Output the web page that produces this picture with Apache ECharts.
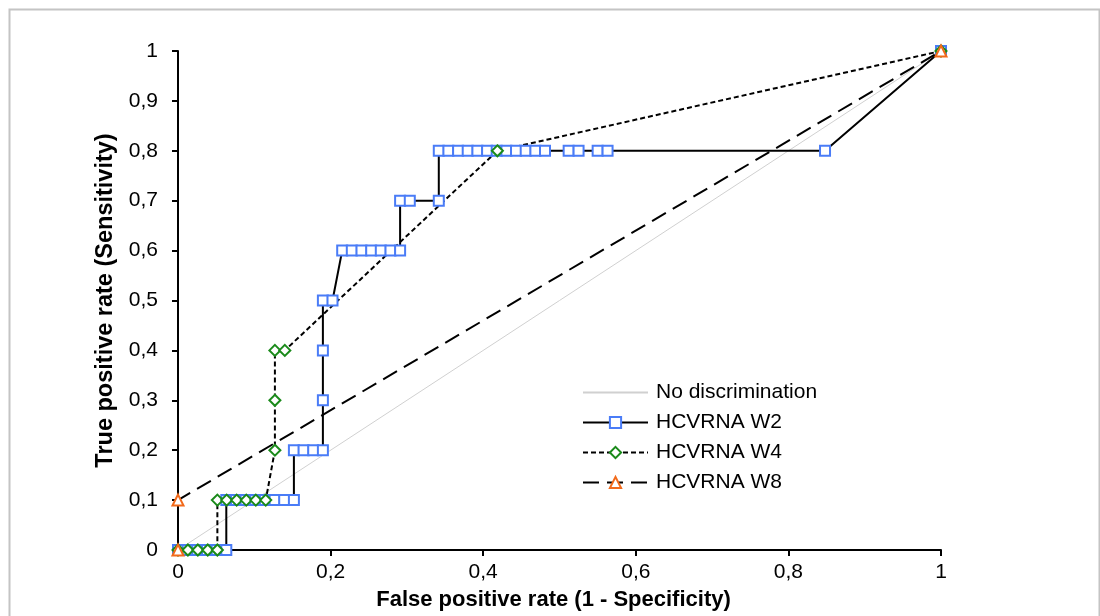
<!DOCTYPE html>
<html>
<head>
<meta charset="utf-8">
<script src="https://cdn.jsdelivr.net/npm/echarts@6/dist/echarts.min.js"></script>
<style>
html,body{margin:0;padding:0;background:#fff;}
#chart{width:1100px;height:616px;}
</style>
</head>
<body>
<div id="chart"></div>
<script>
// ---- data ----
const xTicks = [0, 0.2, 0.4, 0.6, 0.8, 1];
const yTicks = [0, 0.1, 0.2, 0.3, 0.4, 0.5, 0.6, 0.7, 0.8, 0.9, 1];

const diagX = [0, 1];
const diagY = [0, 1];

const w2X = [0, 0.0127, 0.0253, 0.038, 0.0507, 0.0633,
  0.0633, 0.076, 0.0886, 0.1013, 0.1139, 0.1266, 0.1392, 0.1519,
  0.1519, 0.1646, 0.1772, 0.1899,
  0.1899, 0.1899, 0.1899, 0.2025,
  0.2152, 0.2278, 0.2405, 0.2532, 0.2658, 0.2785, 0.2911,
  0.2911, 0.3038, 0.3418,
  0.3418, 0.3544, 0.3671, 0.3797, 0.3924, 0.4051, 0.4177, 0.4304, 0.443, 0.4557, 0.4684, 0.481,
  0.512, 0.525, 0.55, 0.563, 0.848,
  1];
const w2Y = [0, 0, 0, 0, 0, 0,
  0.1, 0.1, 0.1, 0.1, 0.1, 0.1, 0.1, 0.1,
  0.2, 0.2, 0.2, 0.2,
  0.3, 0.4, 0.5, 0.5,
  0.6, 0.6, 0.6, 0.6, 0.6, 0.6, 0.6,
  0.7, 0.7, 0.7,
  0.8, 0.8, 0.8, 0.8, 0.8, 0.8, 0.8, 0.8, 0.8, 0.8, 0.8, 0.8,
  0.8, 0.8, 0.8, 0.8, 0.8,
  1];

const w4X = [0, 0.013, 0.026, 0.039, 0.0516,
  0.0516, 0.0638, 0.0769, 0.0895, 0.102, 0.115,
  0.127, 0.127, 0.127, 0.14,
  0.4186, 1];
const w4Y = [0, 0, 0, 0, 0,
  0.1, 0.1, 0.1, 0.1, 0.1, 0.1,
  0.2, 0.3, 0.4, 0.4,
  0.8, 1];

const w8X = [0, 0, 1];
const w8Y = [0, 0.1, 1];

const seriesNames = ['No discrimination', 'HCVRNA W2', 'HCVRNA W4', 'HCVRNA W8'];

function pairs(xs, ys) { return xs.map((x, i) => [x, ys[i]]); }
function fmt(v) { return String(Math.round(v * 10) / 10).replace('.', ','); }

const FONT = '"Liberation Sans", Arial, sans-serif';

const chart = echarts.init(document.getElementById('chart'));
chart.setOption({
  animation: false,
  backgroundColor: '#fff',
  graphic: [{
    type: 'rect', left: 7, top: 7, z: -1,
    shape: { width: 1090, height: 640 },
    style: { fill: 'none', stroke: '#c4c4c4', lineWidth: 2 }
  }],
  grid: { left: 178, right: 159, top: 51, bottom: 65, containLabel: false },
  legend: {
    orient: 'vertical', left: 577, top: 377,
    itemWidth: 65, itemHeight: 14, itemGap: 9,
    data: seriesNames,
    textStyle: { fontFamily: FONT, fontSize: 21, color: '#000', padding: [0, 0, 0, 3] }
  },
  xAxis: {
    type: 'value', min: 0, max: 1, interval: 0.2,
    name: 'False positive rate (1 - Specificity)',
    nameLocation: 'middle', nameGap: 39,
    nameTextStyle: { fontFamily: FONT, fontSize: 22, fontWeight: 'bold', color: '#000', padding: [0, 12, 0, 0] },
    axisLine: { show: true, lineStyle: { color: '#000', width: 2 } },
    axisTick: { show: true, length: 6, lineStyle: { color: '#000', width: 2 } },
    axisLabel: { fontFamily: FONT, fontSize: 21, color: '#000', margin: 12, formatter: fmt },
    splitLine: { show: false }
  },
  yAxis: {
    type: 'value', min: 0, max: 1, interval: 0.1,
    name: 'True positive rate (Sensitivity)',
    nameLocation: 'middle', nameGap: 59,
    nameTextStyle: { fontFamily: FONT, fontSize: 23.5, fontWeight: 'bold', color: '#000' },
    axisLine: { show: true, lineStyle: { color: '#000', width: 2 } },
    axisTick: { show: true, length: 6, lineStyle: { color: '#000', width: 2 } },
    axisLabel: { fontFamily: FONT, fontSize: 21, color: '#000', margin: 20, formatter: fmt },
    splitLine: { show: false }
  },
  series: [
    {
      name: seriesNames[0], type: 'line', data: pairs(diagX, diagY),
      symbol: 'none', color: '#d0d0d0',
      itemStyle: { opacity: 0 },
      lineStyle: { color: '#d0d0d0', width: 1 }
    },
    {
      name: seriesNames[1], type: 'line', data: pairs(w2X, w2Y),
      symbol: 'rect', symbolSize: 10, showAllSymbol: true,
      itemStyle: { color: '#fff', borderColor: '#4a7cf7', borderWidth: 2 },
      lineStyle: { color: '#000', width: 2, type: 'solid' }
    },
    {
      name: seriesNames[2], type: 'line', data: pairs(w4X, w4Y),
      symbol: 'diamond', symbolSize: 11, showAllSymbol: true,
      itemStyle: { color: '#fff', borderColor: '#1a8a1a', borderWidth: 2 },
      lineStyle: { color: '#000', width: 2, type: [5, 3] }
    },
    {
      name: seriesNames[3], type: 'line', data: pairs(w8X, w8Y),
      symbol: 'triangle', symbolSize: 11, showAllSymbol: true,
      itemStyle: { color: '#fff', borderColor: '#f26a1b', borderWidth: 2 },
      lineStyle: { color: '#000', width: 2, type: [16, 8] }
    }
  ]
});
</script>
</body>
</html>
